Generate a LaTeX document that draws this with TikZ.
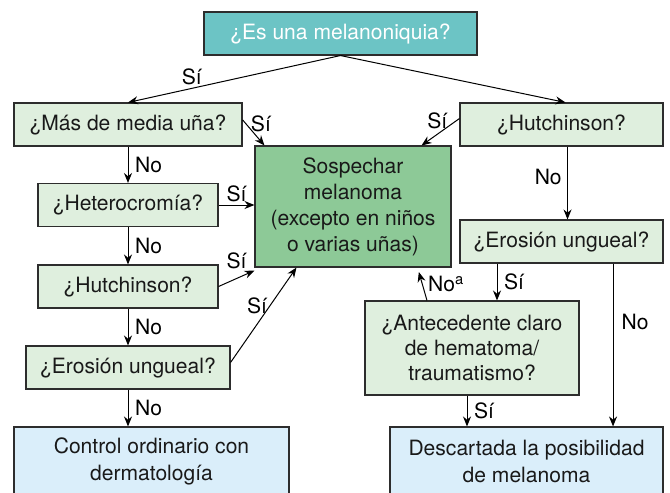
\documentclass[tikz,border=0pt]{standalone}
\usepackage{fontspec}
\setmainfont{TeX Gyre Heros}
\usetikzlibrary{arrows.meta}

\definecolor{tealtop}{RGB}{108,196,197}
\definecolor{melgreen}{RGB}{141,201,151}
\definecolor{qgreen}{RGB}{223,239,222}
\definecolor{endblue}{RGB}{218,238,250}
\definecolor{edge}{RGB}{45,45,45}

\tikzset{
  box/.style={draw=edge,line width=0.8pt,align=center,inner sep=2pt,
    font=\fontsize{15.8}{18.5}\selectfont,text=black!90},
  qbox/.style={box,fill=qgreen,minimum height=32.25pt},
  endbox/.style={box,fill=endblue,minimum height=51.75pt},
  arr/.style={draw=black,line width=0.75pt,-{Stealth[length=7.5pt,width=6pt]}},
  lbl/.style={font=\fontsize{15.8}{18.5}\selectfont,inner sep=2pt},
}

\begin{document}
\begin{tikzpicture}[x=0.75pt,y=-0.75pt]
  \useasboundingbox (0,0) rectangle (670,492);
  \clip (0,0) rectangle (670,492);

  % question boxes
  \node[box,fill=tealtop,text=white,minimum width=204.75pt,minimum height=32.25pt]
    (top) at (340.5,33.5) {¿Es una melanoniquia?};
  \node[qbox,minimum width=171pt] (mas) at (128,124.5) {¿Más de media uña?};
  \node[qbox,minimum width=152.25pt] (hutR) at (561.5,124.5) {¿Hutchinson?};
  \node[qbox,minimum width=135pt] (het) at (128,205) {¿Heterocromía?};
  \node[qbox,minimum width=135pt] (hutL) at (128,286.5) {¿Hutchinson?};
  \node[qbox,minimum width=153pt] (eroL) at (128,367.5) {¿Erosión ungueal?};
  \node[qbox,minimum width=152.25pt] (eroR) at (561.5,241.5) {¿Erosión ungueal?};
  \node[qbox,minimum width=160.5pt,minimum height=70.5pt] (ante) at (472,348)
    {¿Antecedente claro\\de hematoma/\\traumatismo?};

  % outcomes
  \node[box,fill=melgreen,minimum width=147pt,minimum height=90.75pt,
    font=\fontsize{15.8}{19.5}\selectfont] (mel) at (353,206.5)
    {Sospechar\\melanoma\\(excepto en niños\\o varias uñas)};
  \node[endbox,minimum width=206.25pt,font=\fontsize{15.8}{20}\selectfont] (ctrl) at (151.5,461.5)
    {Control ordinario con\\dermatología};
  \node[endbox,minimum width=204.75pt,font=\fontsize{15.8}{20}\selectfont] (desc) at (526.5,461.5)
    {Descartada la posibilidad\\de melanoma};

  % first split
  \draw[arr] (top.south) -- (mas.north) node[lbl,pos=0.7,above] {Sí};
  \draw[arr] (top.south) -- ([xshift=3pt]hutR.north);

  % left branch
  \draw[arr] ([yshift=3.5pt]mas.east) -- ([xshift=7.5pt]mel.north west)
    node[lbl,pos=0.15,right=1.5pt] {Sí};
  \draw[arr] (mas) -- (het) node[lbl,midway,right=3pt] {No};
  \draw[arr] (het.east) -- (het.east -| mel.west) node[lbl,midway,above] {Sí};
  \draw[arr] (het) -- (hutL) node[lbl,midway,right=3pt] {No};
  \draw[arr] (hutL.east) -- ([yshift=-2.25pt]mel.south west)
    node[lbl,midway,above,yshift=5pt] {Sí};
  \draw[arr] (hutL) -- (eroL) node[lbl,midway,right=3pt] {No};
  \draw[arr] ([yshift=3.75pt]eroL.east) -- ([xshift=31.5pt]mel.south west)
    node[lbl,pos=0.6,left] {Sí};
  \draw[arr] (eroL) -- (ctrl.north -| eroL.south) node[lbl,midway,right=3pt] {No};

  % right branch
  \draw[arr] ([yshift=4.5pt]hutR.west) -- ([xshift=-22.5pt]mel.north east)
    node[lbl,pos=0.1,left=4pt] {Sí};
  \draw[arr] ([xshift=4.5pt]hutR.south) -- ([xshift=4.5pt]eroR.north)
    node[lbl,pos=0.42,left=2pt] {No};
  \coordinate (sia) at ([xshift=18.75pt]ante.north);
  \draw[arr] (sia |- eroR.south) -- (sia) node[lbl,midway,right=3pt] {Sí};
  \coordinate (noe) at ([xshift=64.9pt]desc.north);
  \draw[arr] (noe |- eroR.south) -- (noe) node[lbl,pos=0.36,right=4pt] {No};
  \draw[arr] ([xshift=-3.75pt]ante.south) -- ([xshift=-3.75pt]ante.south |- desc.north)
    node[lbl,midway,right=3pt] {Sí};
  \draw[arr,shorten >=3.5pt] ([xshift=-33.75pt]ante.north) -- ([xshift=-25.5pt]mel.south east)
    node[lbl,midway,right=2pt] {No\textsuperscript{a}};

\end{tikzpicture}
\end{document}
